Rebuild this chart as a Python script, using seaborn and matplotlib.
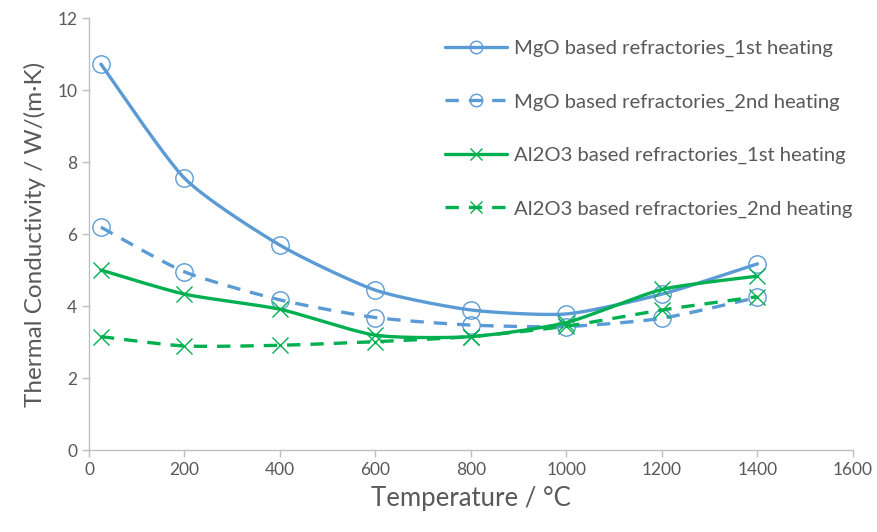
import numpy as np
import pandas as pd
import matplotlib
matplotlib.use("Agg")
import matplotlib.pyplot as plt
import seaborn as sns
from matplotlib.lines import Line2D

temps = [25, 200, 400, 600, 800, 1000, 1200, 1400]
mgo_1st = [10.72, 7.55, 5.69, 4.44, 3.89, 3.78, 4.33, 5.17]
mgo_2nd = [6.19, 4.95, 4.17, 3.68, 3.47, 3.43, 3.66, 4.24]
al_1st = [5.00, 4.33, 3.91, 3.19, 3.15, 3.54, 4.46, 4.83]
al_2nd = [3.15, 2.89, 2.91, 3.01, 3.15, 3.44, 3.89, 4.26]
labels = ["MgO based refractories_1st heating",
          "MgO based refractories_2nd heating",
          "Al2O3 based refractories_1st heating",
          "Al2O3 based refractories_2nd heating"]
series = [mgo_1st, mgo_2nd, al_1st, al_2nd]

BLUE = "#5B9BD5"
GREEN = "#00B050"
colors = [BLUE, BLUE, GREEN, GREEN]
markers = ["o", "o", "x", "x"]
dashed = [False, True, False, True]

sns.set_theme(style="white")
plt.rcParams['font.family'] = ['Lato', 'DejaVu Sans']
TXT = "#595959"


def smooth(x, y, n=30, k=0.11):
    # mild Excel-style smoothing (cubic Bezier between data points)
    x = np.asarray(x, float); y = np.asarray(y, float)
    P = np.column_stack([x, y])
    out = []
    for i in range(len(P) - 1):
        p0 = P[i - 1] if i > 0 else P[i]
        p1 = P[i]; p2 = P[i + 1]
        p3 = P[i + 2] if i + 2 < len(P) else P[i + 1]
        c1 = p1 + (p2 - p0) * k
        c2 = p2 - (p3 - p1) * k
        t = np.linspace(0, 1, n)[:, None]
        seg = ((1 - t) ** 3) * p1 + 3 * ((1 - t) ** 2) * t * c1 + 3 * (1 - t) * t ** 2 * c2 + t ** 3 * p2
        out.append(seg if i == 0 else seg[1:])
    return np.vstack(out)


fig = plt.figure(figsize=(8.77, 5.32), dpi=100)
ax = fig.add_axes([0.1015, 0.1541, 0.871, 0.812])

handles = []
for vals, lab, c, m, d in zip(series, labels, colors, markers, dashed):
    curve = smooth(temps, vals)
    cdf = pd.DataFrame({"x": curve[:, 0], "y": curve[:, 1]})
    ls = (0, (4, 3)) if d else "-"
    sns.lineplot(data=cdf, x="x", y="y", sort=False, estimator=None, ax=ax,
                 color=c, lw=2.4, linestyle=ls, legend=False)
    pdf = pd.DataFrame({"x": temps, "y": vals})
    if m == "o":
        ax.plot(pdf["x"], pdf["y"], linestyle="none", marker="o", ms=12.5,
                mfc="none", mec=c, mew=1.0)
    else:
        ax.plot(pdf["x"], pdf["y"], linestyle="none", marker="x", ms=11,
                mec=c, mew=1.0)
    handles.append(Line2D([], [], color=c, lw=2.4, linestyle=ls, marker=m,
                          ms=9, mfc="none" if m == "o" else c,
                          mec=c, mew=1.0))

ax.set_xlim(0, 1600)
ax.set_ylim(0, 12)
ax.set_xticks(np.arange(0, 1601, 200))
ax.set_yticks(np.arange(0, 13, 2))
ax.tick_params(axis="both", colors="#BFBFBF", labelcolor=TXT, labelsize=12.5,
               direction="out", length=5, width=1, bottom=True, left=True)
for s in ["top", "right"]:
    ax.spines[s].set_visible(False)
for s in ["left", "bottom"]:
    ax.spines[s].set_color("#BFBFBF")
    ax.spines[s].set_linewidth(1)

ax.set_xlabel("Temperature / °C", fontsize=18.5, color=TXT, labelpad=6)
ax.set_ylabel("Thermal Conductivity / W/(m·K)", fontsize=17.5, color=TXT, labelpad=8)

leg = ax.legend(handles, labels, loc="upper left", bbox_to_anchor=(0.466, 0.95),
                frameon=False, fontsize=14.6, labelcolor=TXT, handlelength=3.05,
                handletextpad=0.35, labelspacing=1.78, borderpad=0,
                borderaxespad=0)

fig.savefig("out.png", dpi=100)
